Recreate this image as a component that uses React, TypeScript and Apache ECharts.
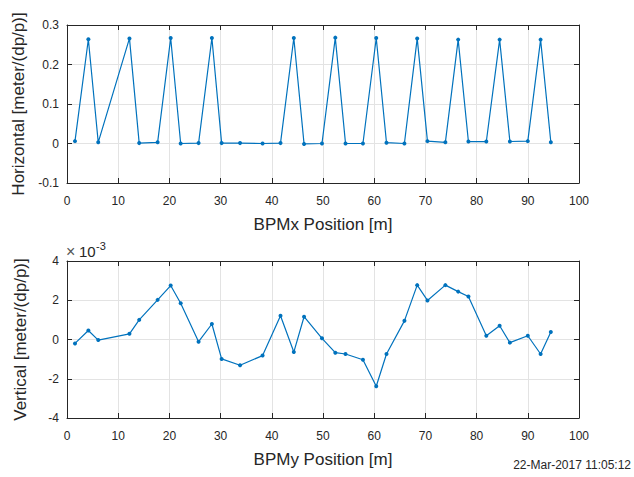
import React, { useEffect, useRef } from "react";
import * as echarts from "echarts";

const positions = [1.56, 4.17, 6.1, 12.2, 14.1, 17.7, 20.25, 22.2, 25.7, 28.3, 30.2, 33.8, 38.2, 41.7, 44.3, 46.3, 49.8, 52.4, 54.4, 57.8, 60.4, 62.4, 65.9, 68.4, 70.4, 73.9, 76.4, 78.4, 81.9, 84.5, 86.5, 90.0, 92.5, 94.5];
const horizontal = [0.006, 0.264, 0.003, 0.266, 0.001, 0.003, 0.267, 0.0, 0.001, 0.267, 0.001, 0.001, 0.0, 0.001, 0.267, -0.001, 0.0, 0.268, 0.0, 0.0, 0.267, 0.002, 0.0, 0.266, 0.006, 0.003, 0.263, 0.005, 0.005, 0.263, 0.005, 0.006, 0.263, 0.003];
// vertical values in units of 1e-3
const vertical = [-0.2, 0.46, -0.03, 0.29, 1.0, 2.02, 2.75, 1.85, -0.11, 0.79, -0.99, -1.31, -0.82, 1.21, -0.64, 1.16, 0.06, -0.67, -0.74, -1.03, -2.38, -0.74, 0.95, 2.77, 1.99, 2.77, 2.44, 2.19, 0.19, 0.7, -0.16, 0.19, -0.74, 0.38];
const xTitleTop = "BPMx Position [m]";
const xTitleBottom = "BPMy Position [m]";
const yTitleTop = "Horizontal [meter/(dp/p)]";
const yTitleBottom = "Vertical [meter/(dp/p)]";
const timestamp = "22-Mar-2017 11:05:12";

const FONT = "Liberation Sans, Arial, Helvetica, sans-serif";
const TXT = "#262626";
const LINE = "#0072BD";

export default function App() {
  const ref = useRef<HTMLDivElement>(null);
  useEffect(() => {
    if (!ref.current) return;
    const chart = echarts.init(ref.current, null, { renderer: "svg" });
    const xBase = (gridIndex: number, name: string) => ({
      type: "value" as const,
      gridIndex,
      min: 0,
      max: 100,
      interval: 10,
      name,
      nameLocation: "middle" as const,
      nameGap: 33,
      nameTextStyle: { color: TXT, fontSize: 17, fontFamily: FONT },
      axisLine: { show: true, onZero: false, lineStyle: { color: TXT, width: 1 } },
      axisTick: { show: true, inside: true, length: 5, lineStyle: { color: TXT } },
      axisLabel: { color: TXT, fontSize: 12, fontFamily: FONT, margin: 12 },
      splitLine: { show: true, lineStyle: { color: "#e3e3e3", width: 1 } },
    });
    const xTop = (gridIndex: number) => ({
      type: "value" as const,
      gridIndex,
      position: "top" as const,
      min: 0,
      max: 100,
      interval: 10,
      axisLine: { show: true, onZero: false, lineStyle: { color: TXT, width: 1 } },
      axisTick: { show: true, inside: true, length: 5, lineStyle: { color: TXT } },
      axisLabel: { show: false },
      splitLine: { show: false },
    });
    const yBase = (gridIndex: number, name: string, min: number, max: number, interval: number, fmt: (v: number) => string) => ({
      type: "value" as const,
      gridIndex,
      min,
      max,
      interval,
      name,
      nameLocation: "middle" as const,
      nameGap: 38,
      nameTextStyle: { color: TXT, fontSize: 17, fontFamily: FONT },
      axisLine: { show: true, onZero: false, lineStyle: { color: TXT, width: 1 } },
      axisTick: { show: true, inside: true, length: 5, lineStyle: { color: TXT } },
      axisLabel: { color: TXT, fontSize: 12, fontFamily: FONT, margin: 8, formatter: fmt },
      splitLine: { show: true, lineStyle: { color: "#e3e3e3", width: 1 } },
    });
    const yRight = (gridIndex: number, min: number, max: number, interval: number) => ({
      type: "value" as const,
      gridIndex,
      position: "right" as const,
      min,
      max,
      interval,
      axisLine: { show: true, onZero: false, lineStyle: { color: TXT, width: 1 } },
      axisTick: { show: true, inside: true, length: 5, lineStyle: { color: TXT } },
      axisLabel: { show: false },
      splitLine: { show: false },
    });
    const fmtH = (v: number) => {
      const r = Math.round(v * 10) / 10;
      return r === 0 ? "0" : String(r);
    };
    const fmtV = (v: number) => String(Math.round(v));
    chart.setOption({
      animation: false,
      backgroundColor: "#ffffff",
      grid: [
        { left: 67, right: 55, top: 25, height: 158, show: false },
        { left: 67, right: 55, top: 261, height: 157, show: false },
      ],
      xAxis: [xBase(0, xTitleTop), xBase(1, xTitleBottom), xTop(0), xTop(1)],
      yAxis: [
        yBase(0, yTitleTop, -0.1, 0.3, 0.1, fmtH),
        yBase(1, yTitleBottom, -4, 4, 2, fmtV),
        yRight(0, -0.1, 0.3, 0.1),
        yRight(1, -4, 4, 2),
      ],
      series: [
        {
          type: "line",
          xAxisIndex: 0,
          yAxisIndex: 0,
          data: positions.map((p, i) => [p, horizontal[i]]),
          symbol: "circle",
          symbolSize: 4,
          lineStyle: { color: LINE, width: 1.2 },
          itemStyle: { color: LINE },
        },
        {
          type: "line",
          xAxisIndex: 1,
          yAxisIndex: 1,
          data: positions.map((p, i) => [p, vertical[i]]),
          symbol: "circle",
          symbolSize: 4,
          lineStyle: { color: LINE, width: 1.2 },
          itemStyle: { color: LINE },
        },
      ],
      graphic: [
        {
          type: "text",
          left: 66,
          top: 243,
          style: { text: "×", fontSize: 16, fontFamily: FONT, fill: "#555555" },
        },
        {
          type: "text",
          left: 79,
          top: 244,
          style: { text: "10", fontSize: 15, fontFamily: FONT, fill: TXT },
        },
        {
          type: "text",
          left: 96,
          top: 240,
          style: { text: "-3", fontSize: 11, fontFamily: FONT, fill: TXT },
        },
        {
          type: "text",
          right: 3,
          top: 459,
          style: { text: timestamp, fontSize: 12, fontFamily: FONT, fill: TXT },
        },
      ],
    });
    return () => chart.dispose();
  }, []);
  return <div ref={ref} style={{ position: "absolute", left: 0, top: 0, width: 634, height: 477 }} />;
}
